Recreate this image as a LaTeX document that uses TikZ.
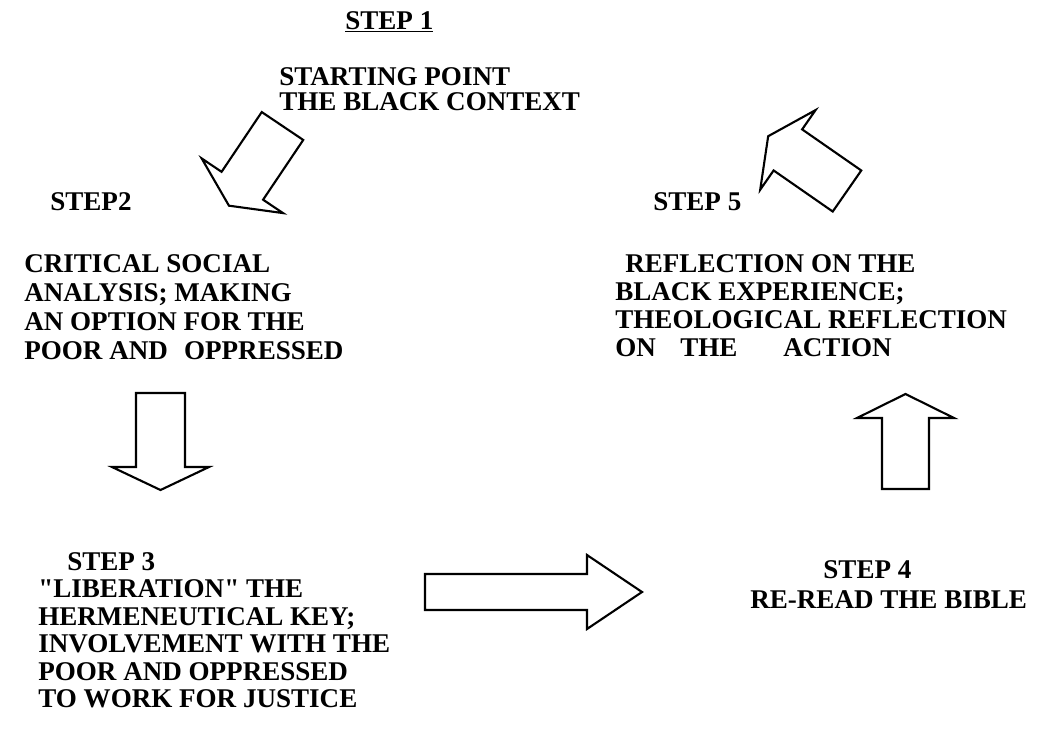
\documentclass[tikz,border=0pt]{standalone}
\usepackage{fontspec}
\setmainfont{Liberation Serif}

\tikzset{
  lbl/.style={inner sep=0pt, align=left, font=\fontsize{15.4pt}{#1}\selectfont\bfseries},
  lbl/.default=15.9pt,
  arrowline/.style={draw, line width=1.2pt, line join=miter},
  % block arrow: shaft length, shaft width, head length, head width
  pics/blockarrow/.style n args={4}{code={
    \draw[arrowline] (0,-#2/2) -- (#1,-#2/2) -- (#1,-#4/2) -- (#1+#3,0)
      -- (#1,#4/2) -- (#1,#2/2) -- (0,#2/2) -- cycle;
  }}
}

\begin{document}
\begin{tikzpicture}[x=0.02cm, y=-0.02cm]
\useasboundingbox (0,0) rectangle (1038,738);

\node[lbl, anchor=base west] (step1) at (345,29) {\underline{STEP 1}};
\node[lbl=14.2pt, anchor=north west] (start) at (279,67) {STARTING POINT\\THE BLACK CONTEXT};

\node[lbl, anchor=base west] (step2) at (50,210) {STEP2};
\node[lbl=16.5pt, anchor=north west] (analysis) at (24,254)
  {CRITICAL SOCIAL\\ANALYSIS; MAKING\\AN OPTION FOR THE\\POOR AND\hspace{0.6em}OPPRESSED};

\node[lbl, anchor=base west] (step5) at (653,210) {STEP 5};
\node[lbl=15.93pt, anchor=north west] (reflect) at (615,254)
  {\hspace{0.37em}REFLECTION ON THE\\BLACK EXPERIENCE;\\THEOLOGICAL REFLECTION\\ON\hspace{0.9em}THE\hspace{1.7em}ACTION};

\node[lbl=15.65pt, anchor=north west] (step3) at (38,552)
  {\hspace{1.07em}STEP 3\\\textquotedbl LIBERATION\textquotedbl{} THE\\HERMENEUTICAL KEY;\\INVOLVEMENT WITH THE\\POOR AND OPPRESSED\\TO WORK FOR JUSTICE};

\node[lbl=17.07pt, anchor=north west] (step4) at (750,560)
  {\hspace{2.7em}STEP 4\\RE-READ THE BIBLE};

% the five block arrows
\pic[rotate=236.1] at (282.5,126) {blockarrow={72}{50}{24}{98}};
\pic[rotate=270] at (160.5,393) {blockarrow={74}{49}{23}{97}};
\pic at (425,592) {blockarrow={162}{36}{55}{74}};
\pic[rotate=90] at (905.5,489) {blockarrow={71}{47}{24}{97}};
\pic[rotate=145.2] at (847,191) {blockarrow={72}{50}{24}{97}};
\end{tikzpicture}
\end{document}
